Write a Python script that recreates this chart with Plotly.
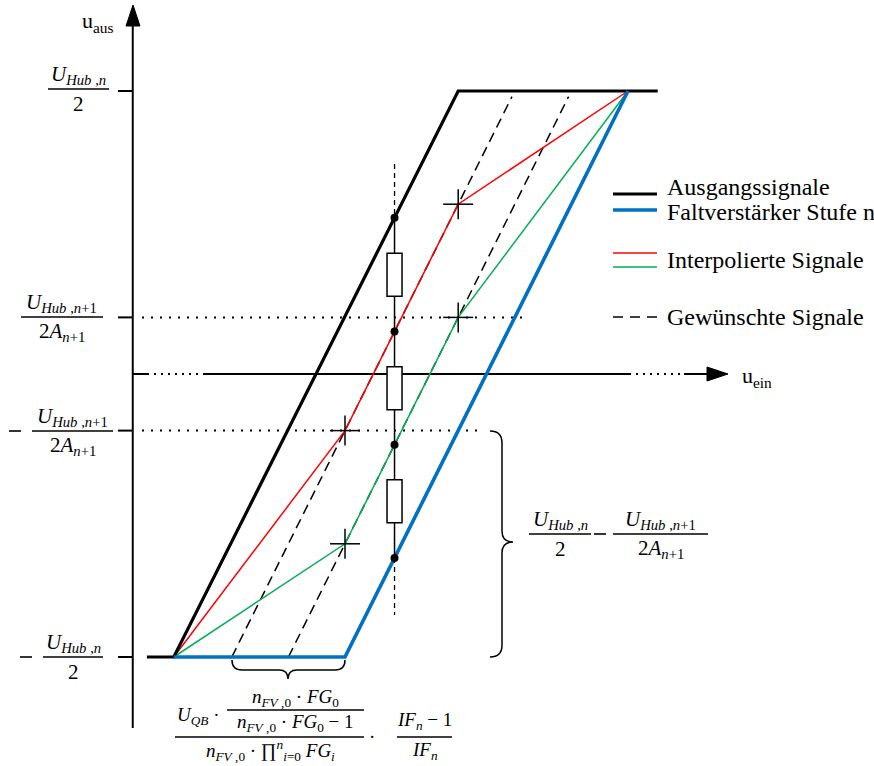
import numpy as np
import plotly.graph_objects as go

W, H = 874, 766

# ---------------- data (logical units: u_ein horizontal, u_aus vertical) ----------------
LEVELS = [1.0, 0.2, -0.2, -1.0]                      # marked u_aus levels
black_x = [0.10, 0.29, 2.30, 3.71]; black_y = [-1.0, -1.0, 1.0, 1.0]   # Ausgangssignale
blue_x = [0.29, 1.50, 3.50];        blue_y = [-1.0, -1.0, 1.0]         # Faltverstärker Stufe n
red_x = [0.29, 1.50, 2.30, 3.50];   red_y = [-1.0, -0.2, 0.6, 1.0]     # interpoliert (rot)
green_x = [0.29, 1.50, 2.30, 3.50]; green_y = [-1.0, -0.6, 0.2, 1.0]   # interpoliert (grün)
dash1_x = [0.70, 2.68]; dash1_y = [-1.0, 0.98]                         # gewünscht 1
dash2_x = [1.10, 3.08]; dash2_y = [-1.0, 0.98]                         # gewünscht 2
cross_x = [2.30, 2.30, 1.50, 1.50]; cross_y = [0.6, 0.2, -0.2, -0.6]   # Sollpunkte
tap_x = 1.85                                                           # Widerstandskette
tap_ext = [0.742, -0.852]
guide_ends = [2.76, 2.47]                                              # dotted guides at +0.2 / -0.2

legend_items = ["Ausgangssignale", "Faltverstärker Stufe n", "Interpolierte Signale", "Gewünschte Signale"]

# ---------------- layout mapping ----------------
X0PX, XS = 132.75, 141.5
Y0PX, YS = 374.0, 283.0
def ux(px): return (px - X0PX) / XS
def uy(py): return (Y0PX - py) / YS
def dxu(n): return n / XS
def dyu(n): return n / YS
def P(px, py): return px / W, 1 - py / H

fig = go.Figure()
shapes = []
annots = []

def line(xs, ys, color="black", width=1.5, dash="solid"):
    fig.add_trace(go.Scatter(x=xs, y=ys, mode="lines",
                             line=dict(color=color, width=width, dash=dash),
                             hoverinfo="skip", showlegend=False))

def path_px(pts):
    out = []
    for t in pts:
        if isinstance(t, str):
            out.append(t)
        else:
            out.append(f"{ux(t[0]):.5f},{uy(t[1]):.5f}")
    return " ".join(out)

# ---------------- axes ----------------
line([0, 0], [uy(728), uy(24)], width=2)
shapes.append(dict(type="path", xref="x", yref="y",
                   path=path_px(["M", (126, 26), "L", (133, 5), "L", (140, 26), "Z"]),
                   fillcolor="black", line=dict(color="black", width=1)))
line([0, ux(147)], [0, 0], width=2)
line([ux(147), ux(203)], [0, 0], width=2, dash="2px,5px")
line([ux(203), ux(629)], [0, 0], width=2)
line([ux(629), ux(684)], [0, 0], width=2, dash="2px,5px")
line([ux(684), ux(708)], [0, 0], width=2)
shapes.append(dict(type="path", xref="x", yref="y",
                   path=path_px(["M", (707, 367), "L", (728, 374), "L", (707, 381), "Z"]),
                   fillcolor="black", line=dict(color="black", width=1)))
for lv in LEVELS:
    line([ux(118), 0], [lv, lv], width=2)

# dotted guides
line([ux(142), guide_ends[0]], [LEVELS[1], LEVELS[1]], width=2, dash="2px,7px")
line([ux(142), guide_ends[1]], [LEVELS[2], LEVELS[2]], width=2, dash="2px,7px")

# ---------------- signals ----------------
line(dash1_x, dash1_y, width=1.5, dash="10px,6px")
line(dash2_x, dash2_y, width=1.5, dash="10px,6px")
line(red_x, red_y, color="#FF0000", width=1.5)
line(green_x, green_y, color="#00B050", width=1.5)
line(black_x, black_y, color="black", width=3.2)
line(blue_x, blue_y, color="#0070C0", width=3.6)

# ---------------- resistor chain ----------------
taps = [float(np.interp(tap_x, xs, ys)) for xs, ys in
        [(black_x, black_y), (red_x, red_y), (green_x, green_y), (blue_x, blue_y)]]
line([tap_x, tap_x], [tap_ext[0], taps[0]], width=1.3, dash="5px,4px")
line([tap_x, tap_x], [taps[0], taps[-1]], width=1.5)
line([tap_x, tap_x], [taps[-1], tap_ext[1]], width=1.3, dash="5px,4px")
for a, b in zip(taps[:-1], taps[1:]):
    c = (a + b) / 2
    shapes.append(dict(type="rect", xref="x", yref="y", layer="above",
                       x0=tap_x - dxu(7.5), x1=tap_x + dxu(7.5),
                       y0=c - dyu(21.5), y1=c + dyu(21.5),
                       fillcolor="white", line=dict(color="black", width=1.5)))
fig.add_trace(go.Scatter(x=[tap_x] * len(taps), y=taps, mode="markers",
                         marker=dict(color="black", size=8), hoverinfo="skip", showlegend=False))

# crosshairs
for cx, cy in zip(cross_x, cross_y):
    line([cx - dxu(15), cx + dxu(15)], [cy, cy], width=1.5)
    line([cx, cx], [cy - dyu(15), cy + dyu(15)], width=1.5)

# ---------------- braces ----------------
brace_style = dict(type="path", xref="x", yref="y", line=dict(color="black", width=1.5))
shapes.append(dict(brace_style, path=path_px([
    "M", (490, 431), "Q", (502, 431), (502, 443), "L", (502, 531),
    "Q", (502, 542), (513, 542), "Q", (502, 542), (502, 553),
    "L", (502, 645), "Q", (502, 657), (490, 657)])))
shapes.append(dict(brace_style, path=path_px([
    "M", (232, 660), "Q", (232, 670), (242, 670), "L", (279, 670),
    "Q", (288, 670), (288, 679), "Q", (288, 670), (297, 670),
    "L", (335, 670), "Q", (345, 670), (345, 660)])))

# ---------------- text helpers ----------------
SERIF = "Liberation Serif"
MS = 21

def txt(px, py, s, anchor="center", size=MS):
    x, y = P(px, py)
    annots.append(dict(x=x, y=y, xref="paper", yref="paper", text=s, showarrow=False,
                       xanchor=anchor, yanchor="middle",
                       font=dict(family=SERIF, size=size, color="black")))

def bar(x0, x1, py, width=1.3):
    a0, b = P(x0, py); a1, _ = P(x1, py)
    shapes.append(dict(type="line", xref="paper", yref="paper", x0=a0, x1=a1, y0=b, y1=b,
                       line=dict(color="black", width=width)))

def frac(x0, x1, py, num, den, size=MS, up=14, down=15):
    bar(x0, x1, py)
    c = (x0 + x1) / 2
    txt(c, py - up, num, size=size)
    txt(c, py + down, den, size=size)

# ---------------- legend (drawn) ----------------
leg_rows = [(194, "black", "solid", 3.2), (210, "#0070C0", "solid", 3.6),
            (253, "#FF0000", "solid", 1.5), (267, "#00B050", "solid", 1.5),
            (317, "black", "10px,7px", 1.5)]
for py, col, ds, wd in leg_rows:
    line([ux(613), ux(657)], [uy(py), uy(py)], color=col, width=wd, dash=ds)
for t, py in zip(legend_items, [187, 212, 260, 317]):
    txt(665, py, t, anchor="left", size=24)

# axis labels
txt(116, 22, "u<sub>aus</sub>", anchor="right", size=22)
txt(740, 377, "u<sub>ein</sub>", anchor="left", size=22)

# ---------------- math labels ----------------
U_n = "<i>U</i><sub><i>Hub</i> ,<i>n</i></sub>"
U_n1 = "<i>U</i><sub><i>Hub</i> ,<i>n</i>+1</sub>"
A_n1 = "2<i>A</i><sub><i>n</i>+1</sub>"

frac(48, 109, 89, U_n, "2")
frac(21, 103, 317, U_n1, A_n1)
bar(9, 21, 431, width=1.6)
frac(32, 113, 431, U_n1, A_n1)
bar(20, 32, 657, width=1.6)
frac(43, 103, 657, U_n, "2")

frac(529, 591, 534, U_n, "2")
bar(594, 606, 534, width=1.6)
frac(613, 708, 534, U_n1, A_n1)

BS = 19
nfv = "<i>n</i><sub><i>FV</i> ,0</sub>"
txt(175, 716, "<i>U</i><sub><i>QB</i></sub> ·", anchor="left", size=BS)
frac(227, 364, 710, nfv + " · <i>FG</i><sub>0</sub>", nfv + " · <i>FG</i><sub>0</sub> − 1",
     size=BS, up=12, down=13)
bar(175, 364, 737)
txt(270, 750, nfv + " · ∏<sup><i>n</i></sup><sub><i>i</i>=0</sub> <i>FG</i><sub><i>i</i></sub>", size=BS)
txt(372, 736, "·", size=BS)
frac(397, 452, 737, "<i>IF</i><sub><i>n</i></sub> − 1", "<i>IF</i><sub><i>n</i></sub>",
     size=BS, up=16, down=14)

fig.update_layout(
    width=W, height=H, margin=dict(l=0, r=0, t=0, b=0),
    paper_bgcolor="white", plot_bgcolor="white",
    xaxis=dict(range=[ux(0), ux(W)], visible=False, fixedrange=True),
    yaxis=dict(range=[uy(H), uy(0)], visible=False, fixedrange=True),
    shapes=shapes, annotations=annots, showlegend=False,
)
fig.write_html("out.html", config={"displayModeBar": False},
               post_script="document.body.style.margin='0';")
